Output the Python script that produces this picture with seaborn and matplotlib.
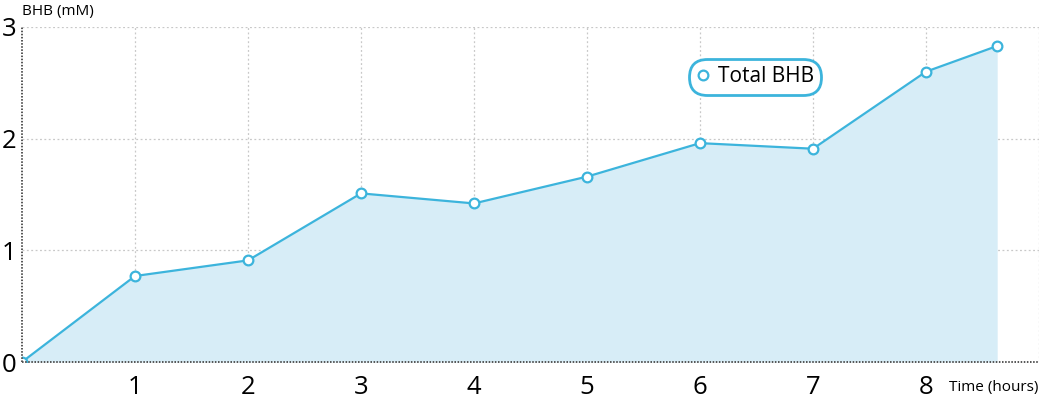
import numpy as np
import pandas as pd
import matplotlib
matplotlib.use("Agg")
import matplotlib.pyplot as plt
import seaborn as sns

# values
time_hours = [0, 1, 2, 3, 4, 5, 6, 7, 8, 8.63]
bhb_mm = [0.0, 0.77, 0.91, 1.51, 1.42, 1.66, 1.96, 1.91, 2.60, 2.83]
x_ticks = [1, 2, 3, 4, 5, 6, 7, 8]
y_ticks = [0, 1, 2, 3]
series_name = "Total BHB"

line_color = "#3cb4dc"
fill_color = "#d7edf7"

sns.set_theme(style="white")
plt.rcParams['font.family'] = ['Open Sans', 'DejaVu Sans']
plt.rcParams['text.color'] = 'black'

df = pd.DataFrame({"time": time_hours, "bhb": bhb_mm})

fig = plt.figure(figsize=(10.4, 4.0), dpi=100)
ax = fig.add_axes([22 / 1040, 1 - 362 / 400, 1017 / 1040, 335 / 400])

ax.fill_between(df["time"], df["bhb"], 0, color=fill_color, linewidth=0, zorder=1)
sns.lineplot(data=df, x="time", y="bhb", ax=ax, color=line_color, linewidth=1.6,
             marker="o", markersize=7, markerfacecolor="white",
             markeredgecolor=line_color, markeredgewidth=1.6,
             label=series_name, zorder=3)

ax.set_xlim(0, 9)
ax.set_ylim(0, 3)

# dotted grid
for xv in range(1, 10):
    ax.axvline(xv, color="#c8c8c8", linestyle=(0, (1.5, 2)), linewidth=0.9, zorder=0.5)
for yv in y_ticks[1:]:
    ax.axhline(yv, color="#c8c8c8", linestyle=(0, (1.5, 2)), linewidth=0.9, zorder=0.5)

for side in ["top", "right"]:
    ax.spines[side].set_visible(False)
for side in ["left", "bottom"]:
    ax.spines[side].set_linestyle((0, (0.8, 0.8)))
    ax.spines[side].set_color("#555555")
    ax.spines[side].set_linewidth(1.4)
    ax.spines[side].set_capstyle("butt")
    ax.spines[side].set_zorder(4)

ax.set_xticks(x_ticks)
ax.set_yticks(y_ticks)
ax.tick_params(axis="x", length=0, pad=9, labelsize=18.5, colors="black")
ax.tick_params(axis="y", length=0, pad=4, labelsize=18.5, colors="black")
ax.set_xlabel("")
ax.set_ylabel("")

fig.text(22 / 1040, 1 - 11 / 400, "BHB (mM)", fontsize=11, ha="left", va="center")
fig.text(1038 / 1040, 1 - 387 / 400, "Time (hours)", fontsize=11, ha="right", va="center")

leg = ax.legend(loc="center", bbox_to_anchor=(0.721, 0.851), fontsize=15,
                handlelength=0.6, handletextpad=0.4, borderpad=0.05,
                frameon=True, fancybox=True)
frame = leg.get_frame()
frame.set_edgecolor(line_color)
frame.set_linewidth(2)
frame.set_facecolor("white")
frame.set_alpha(1)
frame.set_boxstyle("round,pad=0.3,rounding_size=0.85")
for t in leg.get_texts():
    t.set_color("black")
for h in leg.legend_handles:
    h.set_linestyle("none")

fig.savefig("out.png", dpi=100)
